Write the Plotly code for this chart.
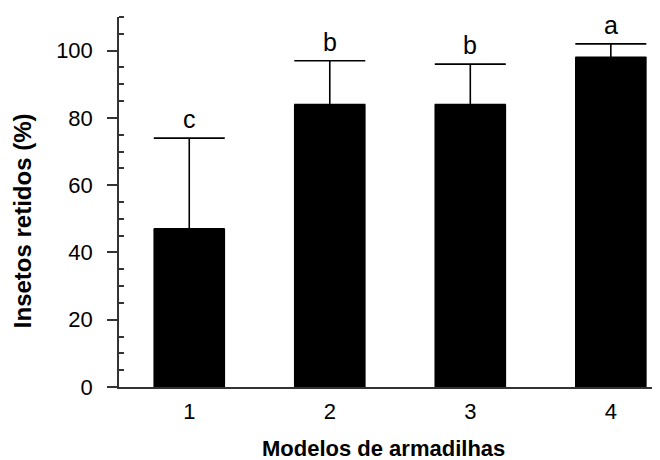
import plotly.graph_objects as go

categories = ["1", "2", "3", "4"]
means = [47, 84, 84, 98]
errors_up = [27, 13, 12, 4]
letters = ["c", "b", "b", "a"]
x_title = "Modelos de armadilhas"
y_title = "Insetos retidos (%)"

xpos = [1, 2, 3, 4]
font_family = "Liberation Sans, Arial, Helvetica, sans-serif"

fig = go.Figure()
fig.add_trace(go.Bar(
    x=xpos, y=means, width=0.51,
    marker=dict(color="black", line=dict(width=0)),
    error_y=dict(type="data", symmetric=False, array=errors_up,
                 arrayminus=[0] * len(means), color="black",
                 thickness=1.6, width=35.5),
    showlegend=False,
))

for xi, m, e, lab in zip(xpos, means, errors_up, letters):
    fig.add_annotation(x=xi, y=m + e, text=lab, showarrow=False,
                       yanchor="middle", yshift=19,
                       font=dict(size=25, color="black", family=font_family))

fig.add_annotation(xref="paper", yref="paper", x=0.488, y=-0.165, text="<b>" + x_title + "</b>",
                   showarrow=False, xanchor="center", yanchor="middle",
                   font=dict(size=22, color="black", family=font_family))
fig.add_annotation(xref="paper", yref="y", x=-0.178, y=49.5, text="<b>" + y_title + "</b>",
                   showarrow=False, textangle=-90, xanchor="center", yanchor="middle",
                   font=dict(size=24, color="black", family=font_family))

fig.update_layout(
    width=660, height=460,
    margin=dict(l=111, r=8, t=9, b=81),
    plot_bgcolor="white", paper_bgcolor="white",
    font=dict(family=font_family, size=22, color="black"),
    xaxis=dict(range=[0.5, 4.35], tickvals=xpos, ticktext=categories,
               tickfont=dict(size=22),
               showline=True, linecolor="#333", linewidth=1.5,
               ticks="", showgrid=False, zeroline=False, ticklabelstandoff=4),
    yaxis=dict(range=[0, 110], tickvals=[0, 20, 40, 60, 80, 100],
               tickfont=dict(size=22),
               showline=True, linecolor="#333", linewidth=1.5,
               ticks="outside", ticklen=10, tickwidth=1.5, tickcolor="#333",
               minor=dict(tickvals=[5, 10, 15, 25, 30, 35, 45, 50, 55, 65, 70, 75, 85, 90, 95, 105, 110],
                          ticks="inside", ticklen=5, tickwidth=1.5, tickcolor="#333"),
               showgrid=False, zeroline=False, ticklabelstandoff=10),
)

fig.write_html("out.html")
